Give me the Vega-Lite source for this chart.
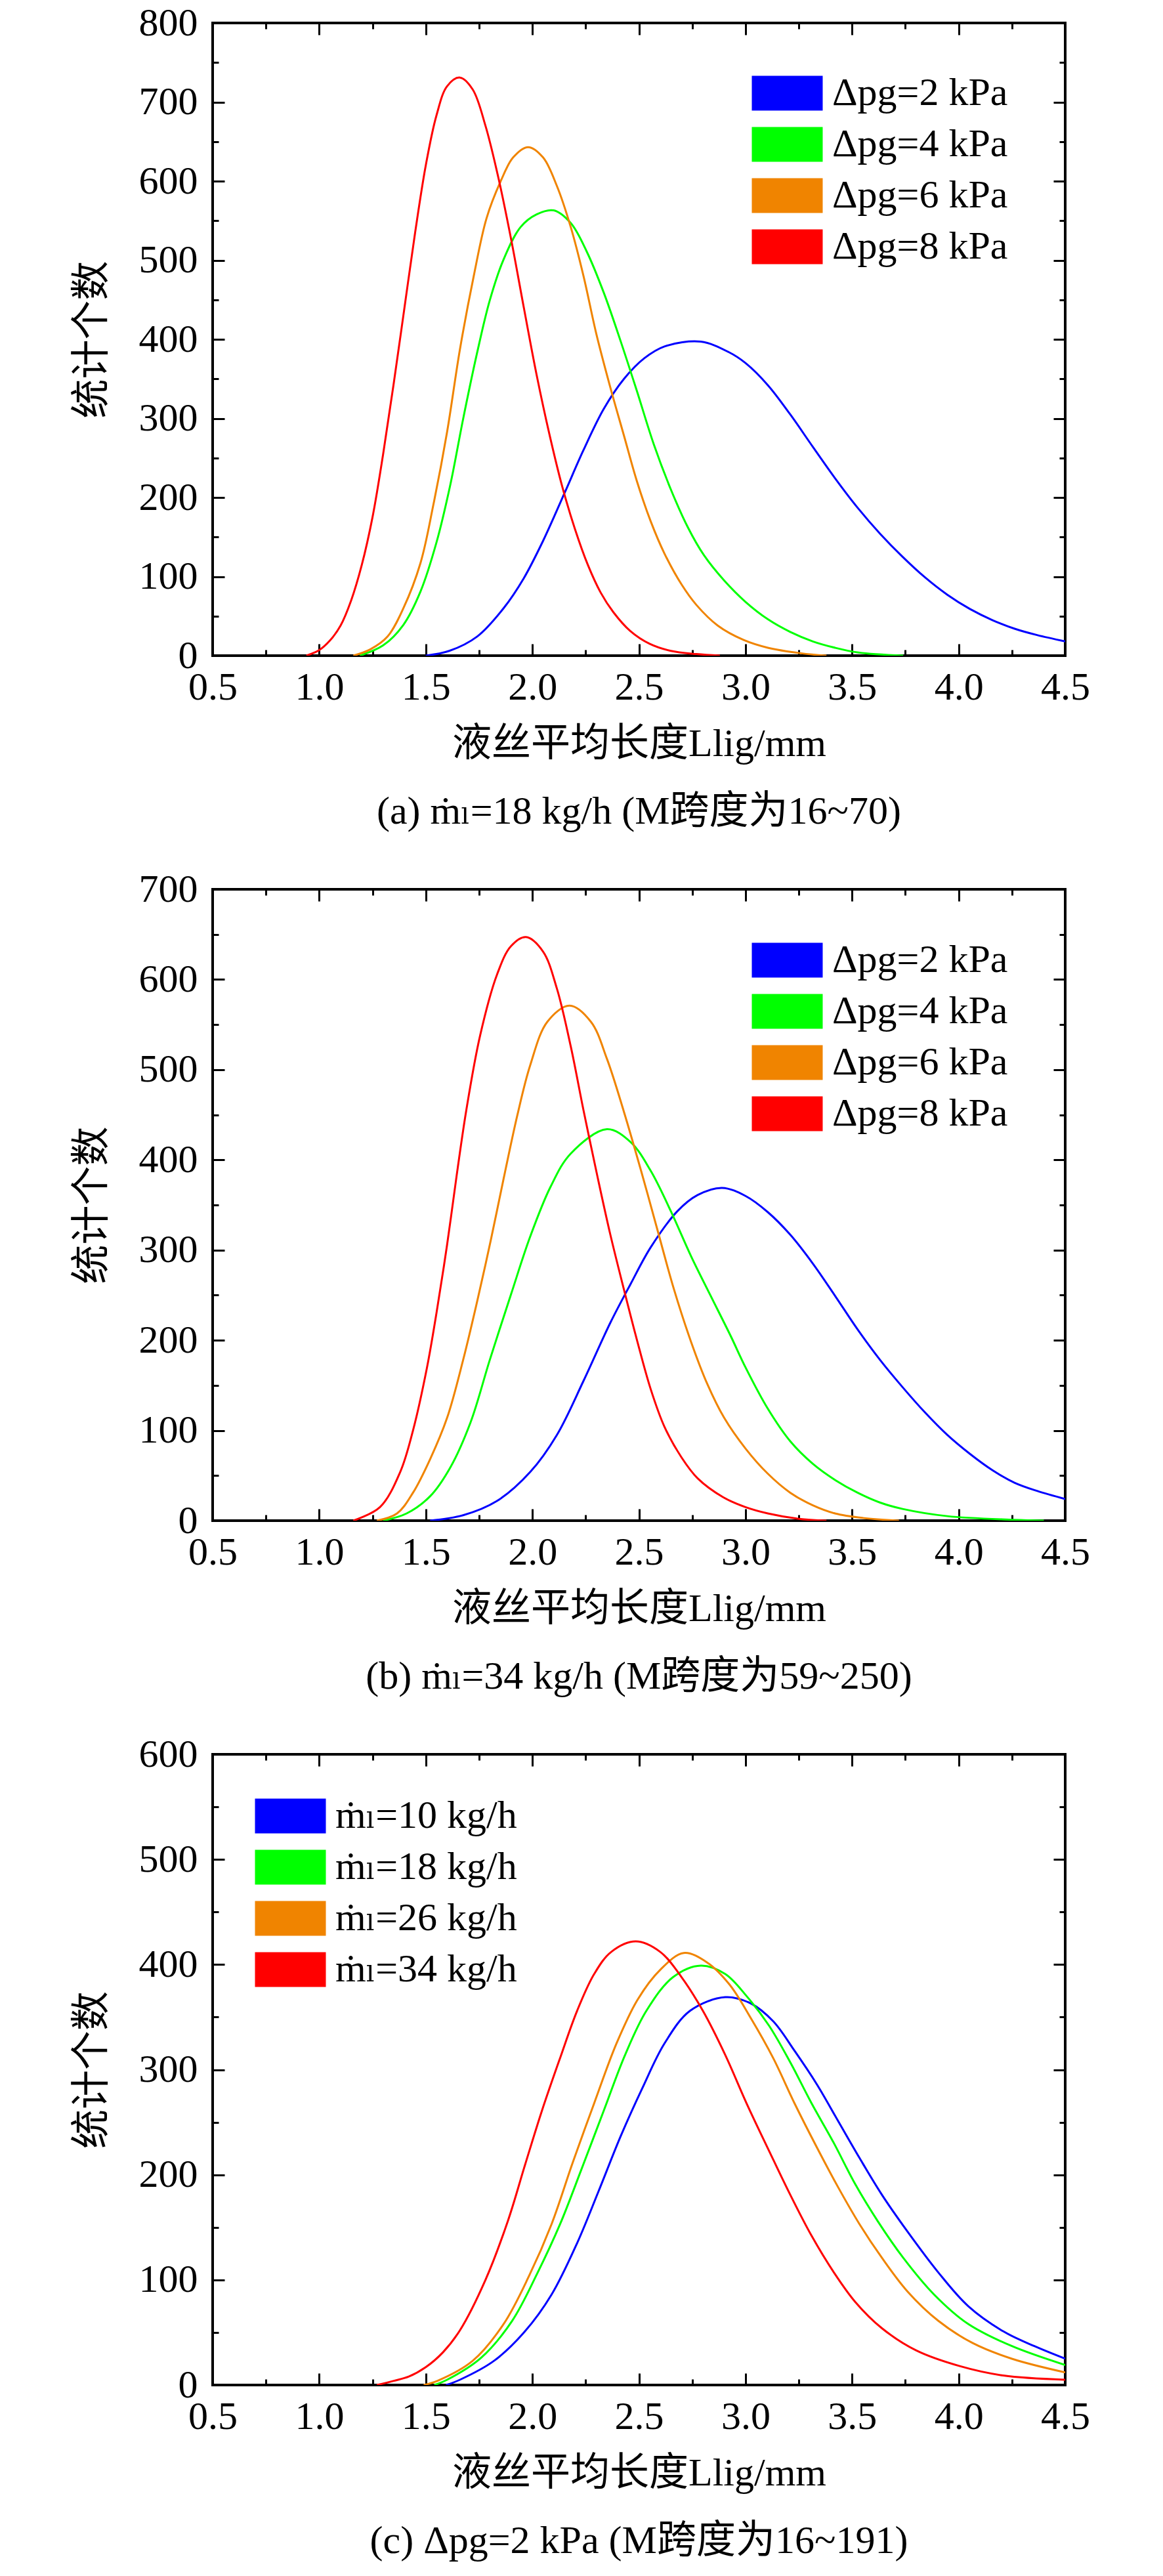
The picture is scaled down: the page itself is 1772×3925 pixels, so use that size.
{
  "$schema": "https://vega.github.io/schema/vega-lite/v6.json",
  "background": "white",
  "padding": {"left": 108, "top": 3, "right": 20, "bottom": 5},
  "spacing": 54,
  "datasets": {
    "a": [
      {"s": "Δpg=2 kPa", "L": 1.5, "n": 0}, {"s": "Δpg=2 kPa", "L": 1.61, "n": 6}, {"s": "Δpg=2 kPa", "L": 1.74, "n": 24}, {"s": "Δpg=2 kPa", "L": 1.865, "n": 60}, {"s": "Δpg=2 kPa", "L": 1.96, "n": 98}, {"s": "Δpg=2 kPa", "L": 2.05, "n": 145}, {"s": "Δpg=2 kPa", "L": 2.15, "n": 205}, {"s": "Δpg=2 kPa", "L": 2.24, "n": 260}, {"s": "Δpg=2 kPa", "L": 2.335, "n": 312}, {"s": "Δpg=2 kPa", "L": 2.43, "n": 350}, {"s": "Δpg=2 kPa", "L": 2.525, "n": 376}, {"s": "Δpg=2 kPa", "L": 2.62, "n": 391}, {"s": "Δpg=2 kPa", "L": 2.79, "n": 397}, {"s": "Δpg=2 kPa", "L": 2.92, "n": 384}, {"s": "Δpg=2 kPa", "L": 3.0, "n": 370}, {"s": "Δpg=2 kPa", "L": 3.105, "n": 342}, {"s": "Δpg=2 kPa", "L": 3.21, "n": 305}, {"s": "Δpg=2 kPa", "L": 3.316, "n": 264}, {"s": "Δpg=2 kPa", "L": 3.421, "n": 224}, {"s": "Δpg=2 kPa", "L": 3.526, "n": 187}, {"s": "Δpg=2 kPa", "L": 3.632, "n": 154}, {"s": "Δpg=2 kPa", "L": 3.737, "n": 125}, {"s": "Δpg=2 kPa", "L": 3.842, "n": 99}, {"s": "Δpg=2 kPa", "L": 3.947, "n": 77}, {"s": "Δpg=2 kPa", "L": 4.053, "n": 59}, {"s": "Δpg=2 kPa", "L": 4.158, "n": 45}, {"s": "Δpg=2 kPa", "L": 4.263, "n": 34}, {"s": "Δpg=2 kPa", "L": 4.368, "n": 26}, {"s": "Δpg=2 kPa", "L": 4.5, "n": 18},
      {"s": "Δpg=4 kPa", "L": 1.19, "n": 0}, {"s": "Δpg=4 kPa", "L": 1.3, "n": 13}, {"s": "Δpg=4 kPa", "L": 1.395, "n": 39}, {"s": "Δpg=4 kPa", "L": 1.475, "n": 81}, {"s": "Δpg=4 kPa", "L": 1.55, "n": 143}, {"s": "Δpg=4 kPa", "L": 1.615, "n": 216}, {"s": "Δpg=4 kPa", "L": 1.675, "n": 299}, {"s": "Δpg=4 kPa", "L": 1.74, "n": 382}, {"s": "Δpg=4 kPa", "L": 1.8, "n": 449}, {"s": "Δpg=4 kPa", "L": 1.865, "n": 501}, {"s": "Δpg=4 kPa", "L": 1.945, "n": 542}, {"s": "Δpg=4 kPa", "L": 2.02, "n": 558}, {"s": "Δpg=4 kPa", "L": 2.1, "n": 563}, {"s": "Δpg=4 kPa", "L": 2.18, "n": 547}, {"s": "Δpg=4 kPa", "L": 2.255, "n": 511}, {"s": "Δpg=4 kPa", "L": 2.335, "n": 459}, {"s": "Δpg=4 kPa", "L": 2.415, "n": 397}, {"s": "Δpg=4 kPa", "L": 2.49, "n": 335}, {"s": "Δpg=4 kPa", "L": 2.57, "n": 267}, {"s": "Δpg=4 kPa", "L": 2.65, "n": 210}, {"s": "Δpg=4 kPa", "L": 2.73, "n": 162}, {"s": "Δpg=4 kPa", "L": 2.805, "n": 127}, {"s": "Δpg=4 kPa", "L": 2.9, "n": 95}, {"s": "Δpg=4 kPa", "L": 3.0, "n": 68}, {"s": "Δpg=4 kPa", "L": 3.105, "n": 46}, {"s": "Δpg=4 kPa", "L": 3.21, "n": 30}, {"s": "Δpg=4 kPa", "L": 3.316, "n": 18}, {"s": "Δpg=4 kPa", "L": 3.42, "n": 10}, {"s": "Δpg=4 kPa", "L": 3.53, "n": 4}, {"s": "Δpg=4 kPa", "L": 3.74, "n": 0},
      {"s": "Δpg=6 kPa", "L": 1.16, "n": 0}, {"s": "Δpg=6 kPa", "L": 1.24, "n": 8}, {"s": "Δpg=6 kPa", "L": 1.32, "n": 24}, {"s": "Δpg=6 kPa", "L": 1.395, "n": 60}, {"s": "Δpg=6 kPa", "L": 1.475, "n": 117}, {"s": "Δpg=6 kPa", "L": 1.535, "n": 190}, {"s": "Δpg=6 kPa", "L": 1.6, "n": 283}, {"s": "Δpg=6 kPa", "L": 1.66, "n": 387}, {"s": "Δpg=6 kPa", "L": 1.725, "n": 480}, {"s": "Δpg=6 kPa", "L": 1.785, "n": 553}, {"s": "Δpg=6 kPa", "L": 1.85, "n": 599}, {"s": "Δpg=6 kPa", "L": 1.91, "n": 630}, {"s": "Δpg=6 kPa", "L": 1.98, "n": 643}, {"s": "Δpg=6 kPa", "L": 2.05, "n": 630}, {"s": "Δpg=6 kPa", "L": 2.115, "n": 594}, {"s": "Δpg=6 kPa", "L": 2.18, "n": 542}, {"s": "Δpg=6 kPa", "L": 2.24, "n": 480}, {"s": "Δpg=6 kPa", "L": 2.3, "n": 407}, {"s": "Δpg=6 kPa", "L": 2.365, "n": 340}, {"s": "Δpg=6 kPa", "L": 2.43, "n": 278}, {"s": "Δpg=6 kPa", "L": 2.49, "n": 221}, {"s": "Δpg=6 kPa", "L": 2.555, "n": 170}, {"s": "Δpg=6 kPa", "L": 2.62, "n": 129}, {"s": "Δpg=6 kPa", "L": 2.7, "n": 90}, {"s": "Δpg=6 kPa", "L": 2.77, "n": 64}, {"s": "Δpg=6 kPa", "L": 2.87, "n": 38}, {"s": "Δpg=6 kPa", "L": 2.99, "n": 20}, {"s": "Δpg=6 kPa", "L": 3.105, "n": 10}, {"s": "Δpg=6 kPa", "L": 3.26, "n": 3}, {"s": "Δpg=6 kPa", "L": 3.38, "n": 0},
      {"s": "Δpg=8 kPa", "L": 0.94, "n": 0}, {"s": "Δpg=8 kPa", "L": 1.0, "n": 7}, {"s": "Δpg=8 kPa", "L": 1.05, "n": 19}, {"s": "Δpg=8 kPa", "L": 1.1, "n": 38}, {"s": "Δpg=8 kPa", "L": 1.15, "n": 70}, {"s": "Δpg=8 kPa", "L": 1.2, "n": 115}, {"s": "Δpg=8 kPa", "L": 1.25, "n": 175}, {"s": "Δpg=8 kPa", "L": 1.3, "n": 255}, {"s": "Δpg=8 kPa", "L": 1.35, "n": 345}, {"s": "Δpg=8 kPa", "L": 1.4, "n": 440}, {"s": "Δpg=8 kPa", "L": 1.45, "n": 535}, {"s": "Δpg=8 kPa", "L": 1.5, "n": 620}, {"s": "Δpg=8 kPa", "L": 1.55, "n": 683}, {"s": "Δpg=8 kPa", "L": 1.6, "n": 720}, {"s": "Δpg=8 kPa", "L": 1.66, "n": 731}, {"s": "Δpg=8 kPa", "L": 1.72, "n": 716}, {"s": "Δpg=8 kPa", "L": 1.78, "n": 670}, {"s": "Δpg=8 kPa", "L": 1.84, "n": 605}, {"s": "Δpg=8 kPa", "L": 1.9, "n": 527}, {"s": "Δpg=8 kPa", "L": 1.96, "n": 440}, {"s": "Δpg=8 kPa", "L": 2.02, "n": 355}, {"s": "Δpg=8 kPa", "L": 2.08, "n": 280}, {"s": "Δpg=8 kPa", "L": 2.14, "n": 214}, {"s": "Δpg=8 kPa", "L": 2.2, "n": 160}, {"s": "Δpg=8 kPa", "L": 2.26, "n": 115}, {"s": "Δpg=8 kPa", "L": 2.32, "n": 80}, {"s": "Δpg=8 kPa", "L": 2.38, "n": 55}, {"s": "Δpg=8 kPa", "L": 2.46, "n": 31}, {"s": "Δpg=8 kPa", "L": 2.55, "n": 15}, {"s": "Δpg=8 kPa", "L": 2.65, "n": 6}, {"s": "Δpg=8 kPa", "L": 2.77, "n": 2}, {"s": "Δpg=8 kPa", "L": 2.88, "n": 0}
    ],
    "b": [
      {"s": "Δpg=2 kPa", "L": 1.52, "n": 0}, {"s": "Δpg=2 kPa", "L": 1.675, "n": 6}, {"s": "Δpg=2 kPa", "L": 1.835, "n": 22}, {"s": "Δpg=2 kPa", "L": 1.99, "n": 54}, {"s": "Δpg=2 kPa", "L": 2.115, "n": 95}, {"s": "Δpg=2 kPa", "L": 2.24, "n": 155}, {"s": "Δpg=2 kPa", "L": 2.365, "n": 219}, {"s": "Δpg=2 kPa", "L": 2.46, "n": 262}, {"s": "Δpg=2 kPa", "L": 2.555, "n": 303}, {"s": "Δpg=2 kPa", "L": 2.68, "n": 343}, {"s": "Δpg=2 kPa", "L": 2.775, "n": 361}, {"s": "Δpg=2 kPa", "L": 2.89, "n": 369}, {"s": "Δpg=2 kPa", "L": 3.0, "n": 360}, {"s": "Δpg=2 kPa", "L": 3.105, "n": 342}, {"s": "Δpg=2 kPa", "L": 3.21, "n": 317}, {"s": "Δpg=2 kPa", "L": 3.316, "n": 285}, {"s": "Δpg=2 kPa", "L": 3.421, "n": 249}, {"s": "Δpg=2 kPa", "L": 3.526, "n": 212}, {"s": "Δpg=2 kPa", "L": 3.632, "n": 178}, {"s": "Δpg=2 kPa", "L": 3.737, "n": 148}, {"s": "Δpg=2 kPa", "L": 3.842, "n": 120}, {"s": "Δpg=2 kPa", "L": 3.947, "n": 95}, {"s": "Δpg=2 kPa", "L": 4.053, "n": 74}, {"s": "Δpg=2 kPa", "L": 4.158, "n": 56}, {"s": "Δpg=2 kPa", "L": 4.263, "n": 42}, {"s": "Δpg=2 kPa", "L": 4.368, "n": 33}, {"s": "Δpg=2 kPa", "L": 4.5, "n": 24},
      {"s": "Δpg=4 kPa", "L": 1.3, "n": 0}, {"s": "Δpg=4 kPa", "L": 1.41, "n": 8}, {"s": "Δpg=4 kPa", "L": 1.52, "n": 27}, {"s": "Δpg=4 kPa", "L": 1.615, "n": 59}, {"s": "Δpg=4 kPa", "L": 1.71, "n": 109}, {"s": "Δpg=4 kPa", "L": 1.8, "n": 178}, {"s": "Δpg=4 kPa", "L": 1.9, "n": 251}, {"s": "Δpg=4 kPa", "L": 1.99, "n": 315}, {"s": "Δpg=4 kPa", "L": 2.085, "n": 370}, {"s": "Δpg=4 kPa", "L": 2.18, "n": 407}, {"s": "Δpg=4 kPa", "L": 2.35, "n": 434}, {"s": "Δpg=4 kPa", "L": 2.46, "n": 420}, {"s": "Δpg=4 kPa", "L": 2.555, "n": 388}, {"s": "Δpg=4 kPa", "L": 2.65, "n": 343}, {"s": "Δpg=4 kPa", "L": 2.745, "n": 293}, {"s": "Δpg=4 kPa", "L": 2.835, "n": 250}, {"s": "Δpg=4 kPa", "L": 2.93, "n": 205}, {"s": "Δpg=4 kPa", "L": 3.0, "n": 170}, {"s": "Δpg=4 kPa", "L": 3.105, "n": 124}, {"s": "Δpg=4 kPa", "L": 3.21, "n": 88}, {"s": "Δpg=4 kPa", "L": 3.316, "n": 63}, {"s": "Δpg=4 kPa", "L": 3.421, "n": 45}, {"s": "Δpg=4 kPa", "L": 3.526, "n": 31}, {"s": "Δpg=4 kPa", "L": 3.632, "n": 20}, {"s": "Δpg=4 kPa", "L": 3.737, "n": 13}, {"s": "Δpg=4 kPa", "L": 3.947, "n": 5}, {"s": "Δpg=4 kPa", "L": 4.26, "n": 1}, {"s": "Δpg=4 kPa", "L": 4.4, "n": 0},
      {"s": "Δpg=6 kPa", "L": 1.27, "n": 0}, {"s": "Δpg=6 kPa", "L": 1.365, "n": 8}, {"s": "Δpg=6 kPa", "L": 1.44, "n": 31}, {"s": "Δpg=6 kPa", "L": 1.52, "n": 68}, {"s": "Δpg=6 kPa", "L": 1.6, "n": 114}, {"s": "Δpg=6 kPa", "L": 1.675, "n": 178}, {"s": "Δpg=6 kPa", "L": 1.74, "n": 242}, {"s": "Δpg=6 kPa", "L": 1.805, "n": 311}, {"s": "Δpg=6 kPa", "L": 1.865, "n": 379}, {"s": "Δpg=6 kPa", "L": 1.93, "n": 450}, {"s": "Δpg=6 kPa", "L": 1.99, "n": 505}, {"s": "Δpg=6 kPa", "L": 2.07, "n": 553}, {"s": "Δpg=6 kPa", "L": 2.175, "n": 571}, {"s": "Δpg=6 kPa", "L": 2.275, "n": 553}, {"s": "Δpg=6 kPa", "L": 2.35, "n": 512}, {"s": "Δpg=6 kPa", "L": 2.43, "n": 453}, {"s": "Δpg=6 kPa", "L": 2.51, "n": 388}, {"s": "Δpg=6 kPa", "L": 2.585, "n": 324}, {"s": "Δpg=6 kPa", "L": 2.665, "n": 256}, {"s": "Δpg=6 kPa", "L": 2.745, "n": 198}, {"s": "Δpg=6 kPa", "L": 2.82, "n": 152}, {"s": "Δpg=6 kPa", "L": 2.9, "n": 114}, {"s": "Δpg=6 kPa", "L": 3.0, "n": 80}, {"s": "Δpg=6 kPa", "L": 3.105, "n": 52}, {"s": "Δpg=6 kPa", "L": 3.21, "n": 31}, {"s": "Δpg=6 kPa", "L": 3.316, "n": 17}, {"s": "Δpg=6 kPa", "L": 3.42, "n": 8}, {"s": "Δpg=6 kPa", "L": 3.55, "n": 3}, {"s": "Δpg=6 kPa", "L": 3.72, "n": 0},
      {"s": "Δpg=8 kPa", "L": 1.16, "n": 0}, {"s": "Δpg=8 kPa", "L": 1.285, "n": 15}, {"s": "Δpg=8 kPa", "L": 1.38, "n": 54}, {"s": "Δpg=8 kPa", "L": 1.44, "n": 100}, {"s": "Δpg=8 kPa", "L": 1.505, "n": 169}, {"s": "Δpg=8 kPa", "L": 1.55, "n": 230}, {"s": "Δpg=8 kPa", "L": 1.6, "n": 306}, {"s": "Δpg=8 kPa", "L": 1.645, "n": 383}, {"s": "Δpg=8 kPa", "L": 1.69, "n": 455}, {"s": "Δpg=8 kPa", "L": 1.755, "n": 538}, {"s": "Δpg=8 kPa", "L": 1.835, "n": 606}, {"s": "Δpg=8 kPa", "L": 1.9, "n": 637}, {"s": "Δpg=8 kPa", "L": 1.97, "n": 647}, {"s": "Δpg=8 kPa", "L": 2.05, "n": 631}, {"s": "Δpg=8 kPa", "L": 2.115, "n": 590}, {"s": "Δpg=8 kPa", "L": 2.18, "n": 526}, {"s": "Δpg=8 kPa", "L": 2.24, "n": 455}, {"s": "Δpg=8 kPa", "L": 2.305, "n": 382}, {"s": "Δpg=8 kPa", "L": 2.365, "n": 318}, {"s": "Δpg=8 kPa", "L": 2.43, "n": 256}, {"s": "Δpg=8 kPa", "L": 2.49, "n": 201}, {"s": "Δpg=8 kPa", "L": 2.555, "n": 146}, {"s": "Δpg=8 kPa", "L": 2.62, "n": 104}, {"s": "Δpg=8 kPa", "L": 2.7, "n": 70}, {"s": "Δpg=8 kPa", "L": 2.775, "n": 47}, {"s": "Δpg=8 kPa", "L": 2.895, "n": 26}, {"s": "Δpg=8 kPa", "L": 3.0, "n": 15}, {"s": "Δpg=8 kPa", "L": 3.105, "n": 8}, {"s": "Δpg=8 kPa", "L": 3.25, "n": 2}, {"s": "Δpg=8 kPa", "L": 3.38, "n": 0}
    ],
    "c": [
      {"s": "ṁₗ=10 kg/h", "L": 1.595, "n": 0}, {"s": "ṁₗ=10 kg/h", "L": 1.66, "n": 5}, {"s": "ṁₗ=10 kg/h", "L": 1.82, "n": 23}, {"s": "ṁₗ=10 kg/h", "L": 1.965, "n": 51}, {"s": "ṁₗ=10 kg/h", "L": 2.09, "n": 86}, {"s": "ṁₗ=10 kg/h", "L": 2.21, "n": 135}, {"s": "ṁₗ=10 kg/h", "L": 2.31, "n": 184}, {"s": "ṁₗ=10 kg/h", "L": 2.415, "n": 237}, {"s": "ṁₗ=10 kg/h", "L": 2.515, "n": 282}, {"s": "ṁₗ=10 kg/h", "L": 2.62, "n": 325}, {"s": "ṁₗ=10 kg/h", "L": 2.74, "n": 356}, {"s": "ṁₗ=10 kg/h", "L": 2.905, "n": 369}, {"s": "ṁₗ=10 kg/h", "L": 3.025, "n": 363}, {"s": "ṁₗ=10 kg/h", "L": 3.13, "n": 346}, {"s": "ṁₗ=10 kg/h", "L": 3.23, "n": 318}, {"s": "ṁₗ=10 kg/h", "L": 3.335, "n": 286}, {"s": "ṁₗ=10 kg/h", "L": 3.435, "n": 251}, {"s": "ṁₗ=10 kg/h", "L": 3.535, "n": 216}, {"s": "ṁₗ=10 kg/h", "L": 3.64, "n": 181}, {"s": "ṁₗ=10 kg/h", "L": 3.76, "n": 146}, {"s": "ṁₗ=10 kg/h", "L": 3.905, "n": 107}, {"s": "ṁₗ=10 kg/h", "L": 4.045, "n": 75}, {"s": "ṁₗ=10 kg/h", "L": 4.21, "n": 51}, {"s": "ṁₗ=10 kg/h", "L": 4.355, "n": 37}, {"s": "ṁₗ=10 kg/h", "L": 4.5, "n": 25},
      {"s": "ṁₗ=18 kg/h", "L": 1.54, "n": 0}, {"s": "ṁₗ=18 kg/h", "L": 1.6, "n": 5}, {"s": "ṁₗ=18 kg/h", "L": 1.76, "n": 26}, {"s": "ṁₗ=18 kg/h", "L": 1.905, "n": 61}, {"s": "ṁₗ=18 kg/h", "L": 2.025, "n": 107}, {"s": "ṁₗ=18 kg/h", "L": 2.13, "n": 153}, {"s": "ṁₗ=18 kg/h", "L": 2.23, "n": 205}, {"s": "ṁₗ=18 kg/h", "L": 2.335, "n": 261}, {"s": "ṁₗ=18 kg/h", "L": 2.435, "n": 314}, {"s": "ṁₗ=18 kg/h", "L": 2.535, "n": 356}, {"s": "ṁₗ=18 kg/h", "L": 2.66, "n": 388}, {"s": "ṁₗ=18 kg/h", "L": 2.79, "n": 399}, {"s": "ṁₗ=18 kg/h", "L": 2.905, "n": 391}, {"s": "ṁₗ=18 kg/h", "L": 3.005, "n": 370}, {"s": "ṁₗ=18 kg/h", "L": 3.11, "n": 342}, {"s": "ṁₗ=18 kg/h", "L": 3.21, "n": 307}, {"s": "ṁₗ=18 kg/h", "L": 3.31, "n": 268}, {"s": "ṁₗ=18 kg/h", "L": 3.415, "n": 230}, {"s": "ṁₗ=18 kg/h", "L": 3.515, "n": 191}, {"s": "ṁₗ=18 kg/h", "L": 3.62, "n": 156}, {"s": "ṁₗ=18 kg/h", "L": 3.74, "n": 121}, {"s": "ṁₗ=18 kg/h", "L": 3.885, "n": 86}, {"s": "ṁₗ=18 kg/h", "L": 4.045, "n": 58}, {"s": "ṁₗ=18 kg/h", "L": 4.25, "n": 37}, {"s": "ṁₗ=18 kg/h", "L": 4.5, "n": 19},
      {"s": "ṁₗ=26 kg/h", "L": 1.49, "n": 0}, {"s": "ṁₗ=26 kg/h", "L": 1.555, "n": 4}, {"s": "ṁₗ=26 kg/h", "L": 1.72, "n": 23}, {"s": "ṁₗ=26 kg/h", "L": 1.865, "n": 58}, {"s": "ṁₗ=26 kg/h", "L": 1.985, "n": 104}, {"s": "ṁₗ=26 kg/h", "L": 2.09, "n": 153}, {"s": "ṁₗ=26 kg/h", "L": 2.19, "n": 212}, {"s": "ṁₗ=26 kg/h", "L": 2.29, "n": 268}, {"s": "ṁₗ=26 kg/h", "L": 2.395, "n": 325}, {"s": "ṁₗ=26 kg/h", "L": 2.495, "n": 367}, {"s": "ṁₗ=26 kg/h", "L": 2.6, "n": 395}, {"s": "ṁₗ=26 kg/h", "L": 2.71, "n": 411}, {"s": "ṁₗ=26 kg/h", "L": 2.82, "n": 402}, {"s": "ṁₗ=26 kg/h", "L": 2.925, "n": 381}, {"s": "ṁₗ=26 kg/h", "L": 3.025, "n": 349}, {"s": "ṁₗ=26 kg/h", "L": 3.13, "n": 311}, {"s": "ṁₗ=26 kg/h", "L": 3.23, "n": 268}, {"s": "ṁₗ=26 kg/h", "L": 3.335, "n": 226}, {"s": "ṁₗ=26 kg/h", "L": 3.435, "n": 188}, {"s": "ṁₗ=26 kg/h", "L": 3.535, "n": 153}, {"s": "ṁₗ=26 kg/h", "L": 3.64, "n": 121}, {"s": "ṁₗ=26 kg/h", "L": 3.76, "n": 89}, {"s": "ṁₗ=26 kg/h", "L": 3.905, "n": 61}, {"s": "ṁₗ=26 kg/h", "L": 4.065, "n": 40}, {"s": "ṁₗ=26 kg/h", "L": 4.25, "n": 25}, {"s": "ṁₗ=26 kg/h", "L": 4.5, "n": 12},
      {"s": "ṁₗ=34 kg/h", "L": 1.27, "n": 0}, {"s": "ṁₗ=34 kg/h", "L": 1.35, "n": 4}, {"s": "ṁₗ=34 kg/h", "L": 1.42, "n": 8}, {"s": "ṁₗ=34 kg/h", "L": 1.5, "n": 17}, {"s": "ṁₗ=34 kg/h", "L": 1.58, "n": 31}, {"s": "ṁₗ=34 kg/h", "L": 1.66, "n": 52}, {"s": "ṁₗ=34 kg/h", "L": 1.78, "n": 100}, {"s": "ṁₗ=34 kg/h", "L": 1.885, "n": 156}, {"s": "ṁₗ=34 kg/h", "L": 1.965, "n": 209}, {"s": "ṁₗ=34 kg/h", "L": 2.045, "n": 261}, {"s": "ṁₗ=34 kg/h", "L": 2.13, "n": 311}, {"s": "ṁₗ=34 kg/h", "L": 2.21, "n": 356}, {"s": "ṁₗ=34 kg/h", "L": 2.29, "n": 391}, {"s": "ṁₗ=34 kg/h", "L": 2.37, "n": 412}, {"s": "ṁₗ=34 kg/h", "L": 2.485, "n": 422}, {"s": "ṁₗ=34 kg/h", "L": 2.6, "n": 412}, {"s": "ṁₗ=34 kg/h", "L": 2.7, "n": 388}, {"s": "ṁₗ=34 kg/h", "L": 2.8, "n": 356}, {"s": "ṁₗ=34 kg/h", "L": 2.905, "n": 314}, {"s": "ṁₗ=34 kg/h", "L": 3.005, "n": 268}, {"s": "ṁₗ=34 kg/h", "L": 3.11, "n": 223}, {"s": "ṁₗ=34 kg/h", "L": 3.21, "n": 181}, {"s": "ṁₗ=34 kg/h", "L": 3.31, "n": 142}, {"s": "ṁₗ=34 kg/h", "L": 3.415, "n": 107}, {"s": "ṁₗ=34 kg/h", "L": 3.515, "n": 79}, {"s": "ṁₗ=34 kg/h", "L": 3.64, "n": 54}, {"s": "ṁₗ=34 kg/h", "L": 3.8, "n": 33}, {"s": "ṁₗ=34 kg/h", "L": 4.005, "n": 18}, {"s": "ṁₗ=34 kg/h", "L": 4.21, "n": 9}, {"s": "ṁₗ=34 kg/h", "L": 4.5, "n": 5}
    ]
  },
  "vconcat": [
    {
      "width": 1299,
      "height": 964,
      "data": {"name": "a"},
      "title": {"text": "(a) ṁₗ=18 kg/h (M跨度为16~70)"},
      "layer": [
        {
          "mark": {"type": "line", "opacity": 0},
          "encoding": {
            "x": {"field": "L", "type": "quantitative", "scale": {"domain": [0.5, 4.5], "nice": false, "zero": false},
              "axis": {"orient": "top", "labels": false, "title": null, "values": [0.5, 0.75, 1, 1.25, 1.5, 1.75, 2, 2.25, 2.5, 2.75, 3, 3.25, 3.5, 3.75, 4, 4.25, 4.5], "tickSize": {"condition": {"test": "datum.value % 0.5 === 0", "value": -18}, "value": -9}}},
            "y": {"field": "n", "type": "quantitative", "scale": {"domain": [0, 800], "nice": false},
              "axis": {"orient": "right", "labels": false, "title": null, "values": [0, 50, 100, 150, 200, 250, 300, 350, 400, 450, 500, 550, 600, 650, 700, 750, 800], "tickSize": {"condition": {"test": "datum.value % 100 === 0", "value": -18}, "value": -9}}},
            "detail": {"field": "s", "type": "nominal"}
          }
        },
        {
          "mark": {"type": "line", "strokeWidth": 3, "interpolate": "catmull-rom", "clip": true},
          "encoding": {
            "x": {"field": "L", "type": "quantitative", "scale": {"domain": [0.5, 4.5], "nice": false, "zero": false},
              "axis": {"orient": "bottom", "title": "液丝平均长度Llig/mm", "values": [0.5, 0.75, 1, 1.25, 1.5, 1.75, 2, 2.25, 2.5, 2.75, 3, 3.25, 3.5, 3.75, 4, 4.25, 4.5], "labelExpr": "datum.value % 0.5 === 0 ? format(datum.value, '.1f') : ''", "tickSize": {"condition": {"test": "datum.value % 0.5 === 0", "value": -18}, "value": -9}, "labelPadding": 37}},
            "y": {"field": "n", "type": "quantitative", "scale": {"domain": [0, 800], "nice": false},
              "axis": {"orient": "left", "title": "统计个数", "values": [0, 50, 100, 150, 200, 250, 300, 350, 400, 450, 500, 550, 600, 650, 700, 750, 800], "labelExpr": "datum.value % 100 === 0 ? datum.label : ''", "tickSize": {"condition": {"test": "datum.value % 100 === 0", "value": -18}, "value": -9}, "labelPadding": 41}},
            "color": {"field": "s", "type": "nominal",
              "scale": {"domain": ["Δpg=2 kPa", "Δpg=4 kPa", "Δpg=6 kPa", "Δpg=8 kPa"], "range": ["#0000ff", "#00ff00", "#f08400", "#ff0000"]},
              "legend": {"orient": "none", "legendX": 795, "legendY": 77}}
          }
        }
      ],
      "resolve": {"axis": {"x": "independent", "y": "independent"}}
    },
    {
      "width": 1299,
      "height": 962,
      "data": {"name": "b"},
      "title": {"text": "(b) ṁₗ=34 kg/h (M跨度为59~250)"},
      "layer": [
        {
          "mark": {"type": "line", "opacity": 0},
          "encoding": {
            "x": {"field": "L", "type": "quantitative", "scale": {"domain": [0.5, 4.5], "nice": false, "zero": false},
              "axis": {"orient": "top", "labels": false, "title": null, "values": [0.5, 0.75, 1, 1.25, 1.5, 1.75, 2, 2.25, 2.5, 2.75, 3, 3.25, 3.5, 3.75, 4, 4.25, 4.5], "tickSize": {"condition": {"test": "datum.value % 0.5 === 0", "value": -18}, "value": -9}}},
            "y": {"field": "n", "type": "quantitative", "scale": {"domain": [0, 700], "nice": false},
              "axis": {"orient": "right", "labels": false, "title": null, "values": [0, 50, 100, 150, 200, 250, 300, 350, 400, 450, 500, 550, 600, 650, 700], "tickSize": {"condition": {"test": "datum.value % 100 === 0", "value": -18}, "value": -9}}},
            "detail": {"field": "s", "type": "nominal"}
          }
        },
        {
          "mark": {"type": "line", "strokeWidth": 3, "interpolate": "catmull-rom", "clip": true},
          "encoding": {
            "x": {"field": "L", "type": "quantitative", "scale": {"domain": [0.5, 4.5], "nice": false, "zero": false},
              "axis": {"orient": "bottom", "title": "液丝平均长度Llig/mm", "values": [0.5, 0.75, 1, 1.25, 1.5, 1.75, 2, 2.25, 2.5, 2.75, 3, 3.25, 3.5, 3.75, 4, 4.25, 4.5], "labelExpr": "datum.value % 0.5 === 0 ? format(datum.value, '.1f') : ''", "tickSize": {"condition": {"test": "datum.value % 0.5 === 0", "value": -18}, "value": -9}, "labelPadding": 37}},
            "y": {"field": "n", "type": "quantitative", "scale": {"domain": [0, 700], "nice": false},
              "axis": {"orient": "left", "title": "统计个数", "values": [0, 50, 100, 150, 200, 250, 300, 350, 400, 450, 500, 550, 600, 650, 700], "labelExpr": "datum.value % 100 === 0 ? datum.label : ''", "tickSize": {"condition": {"test": "datum.value % 100 === 0", "value": -18}, "value": -9}, "labelPadding": 41}},
            "color": {"field": "s", "type": "nominal",
              "scale": {"domain": ["Δpg=2 kPa", "Δpg=4 kPa", "Δpg=6 kPa", "Δpg=8 kPa"], "range": ["#0000ff", "#00ff00", "#f08400", "#ff0000"]},
              "legend": {"orient": "none", "legendX": 795, "legendY": 78}}
          }
        }
      ],
      "resolve": {"axis": {"x": "independent", "y": "independent"}}
    },
    {
      "width": 1299,
      "height": 961,
      "data": {"name": "c"},
      "title": {"text": "(c) Δpg=2 kPa (M跨度为16~191)"},
      "layer": [
        {
          "mark": {"type": "line", "opacity": 0},
          "encoding": {
            "x": {"field": "L", "type": "quantitative", "scale": {"domain": [0.5, 4.5], "nice": false, "zero": false},
              "axis": {"orient": "top", "labels": false, "title": null, "values": [0.5, 0.75, 1, 1.25, 1.5, 1.75, 2, 2.25, 2.5, 2.75, 3, 3.25, 3.5, 3.75, 4, 4.25, 4.5], "tickSize": {"condition": {"test": "datum.value % 0.5 === 0", "value": -18}, "value": -9}}},
            "y": {"field": "n", "type": "quantitative", "scale": {"domain": [0, 600], "nice": false},
              "axis": {"orient": "right", "labels": false, "title": null, "values": [0, 50, 100, 150, 200, 250, 300, 350, 400, 450, 500, 550, 600], "tickSize": {"condition": {"test": "datum.value % 100 === 0", "value": -18}, "value": -9}}},
            "detail": {"field": "s", "type": "nominal"}
          }
        },
        {
          "mark": {"type": "line", "strokeWidth": 3, "interpolate": "catmull-rom", "clip": true},
          "encoding": {
            "x": {"field": "L", "type": "quantitative", "scale": {"domain": [0.5, 4.5], "nice": false, "zero": false},
              "axis": {"orient": "bottom", "title": "液丝平均长度Llig/mm", "values": [0.5, 0.75, 1, 1.25, 1.5, 1.75, 2, 2.25, 2.5, 2.75, 3, 3.25, 3.5, 3.75, 4, 4.25, 4.5], "labelExpr": "datum.value % 0.5 === 0 ? format(datum.value, '.1f') : ''", "tickSize": {"condition": {"test": "datum.value % 0.5 === 0", "value": -18}, "value": -9}, "labelPadding": 37}},
            "y": {"field": "n", "type": "quantitative", "scale": {"domain": [0, 600], "nice": false},
              "axis": {"orient": "left", "title": "统计个数", "values": [0, 50, 100, 150, 200, 250, 300, 350, 400, 450, 500, 550, 600], "labelExpr": "datum.value % 100 === 0 ? datum.label : ''", "tickSize": {"condition": {"test": "datum.value % 100 === 0", "value": -18}, "value": -9}, "labelPadding": 41}},
            "color": {"field": "s", "type": "nominal",
              "scale": {"domain": ["ṁₗ=10 kg/h", "ṁₗ=18 kg/h", "ṁₗ=26 kg/h", "ṁₗ=34 kg/h"], "range": ["#0000ff", "#00ff00", "#f08400", "#ff0000"]},
              "legend": {"orient": "none", "legendX": 38, "legendY": 64}}
          }
        }
      ],
      "resolve": {"axis": {"x": "independent", "y": "independent"}}
    }
  ],
  "resolve": {"scale": {"color": "independent"}},
  "config": {
    "font": "Liberation Serif, DejaVu Serif, Noto Sans CJK SC",
    "view": {"stroke": "black", "strokeWidth": 4},
    "axis": {
      "domain": false,
      "grid": false,
      "labelFont": "Liberation Serif, DejaVu Serif, Noto Sans CJK SC",
      "labelFontSize": 60,
      "labelColor": "black",
      "labelFlush": false,
      "labelOverlap": false,
      "labelBound": false,
      "tickColor": "black",
      "tickWidth": 3,
      "titleFont": "Liberation Serif, DejaVu Serif, Noto Sans CJK SC",
      "titleFontSize": 60,
      "titleFontWeight": "normal",
      "titleColor": "black",
      "titlePadding": 18
    },
    "axisLeft": {"titlePadding": 40},
    "legend": {
      "title": null,
      "padding": 0,
      "labelFont": "Liberation Serif, DejaVu Serif, Noto Sans CJK SC",
      "labelFontSize": 60,
      "labelColor": "black",
      "labelLimit": 500,
      "labelOffset": -12,
      "symbolType": "M-1,0H1",
      "symbolSize": 11664,
      "symbolStrokeWidth": 53,
      "symbolOpacity": 1,
      "clipHeight": 60,
      "rowPadding": 18
    },
    "title": {
      "orient": "bottom",
      "anchor": "middle",
      "frame": "group",
      "font": "Liberation Serif, DejaVu Serif, Noto Sans CJK SC",
      "fontSize": 60,
      "fontWeight": "normal",
      "color": "black",
      "offset": 45
    }
  }
}
